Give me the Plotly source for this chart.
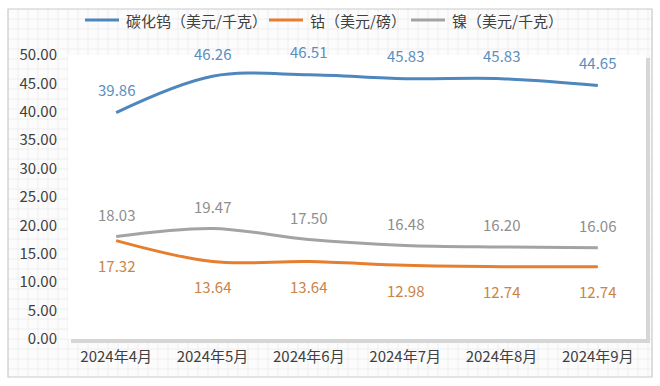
import plotly.graph_objects as go

months = ["2024年4月", "2024年5月", "2024年6月", "2024年7月", "2024年8月", "2024年9月"]
tungsten_carbide = [39.86, 46.26, 46.51, 45.83, 45.83, 44.65]
cobalt = [17.32, 13.64, 13.64, 12.98, 12.74, 12.74]
nickel = [18.03, 19.47, 17.50, 16.48, 16.20, 16.06]
y_ticks = [0, 5, 10, 15, 20, 25, 30, 35, 40, 45, 50]

names = ["碳化钨（美元/千克）", "钴（美元/磅）", "镍（美元/千克）"]
series = [tungsten_carbide, cobalt, nickel]
line_colors = ["#4E86BE", "#E67E2E", "#A3A3A3"]
label_colors = ["#5A8EC0", "#C98446", "#8E8E8E"]
label_shift = [23, -25, 22]
legend_text_x = [124, 308, 450]

FONT = "Noto Sans CJK SC, Noto Sans, sans-serif"
W, H = 660, 386
ML, MR, MT, MB = 68, 14, 55, 47
PW, PH = W - ML - MR, H - MT - MB


def px(x):
    return (x - ML) / PW


def py(y):
    return (H - MB - y) / PH


fig = go.Figure()
for name, vals, c in zip(names, series, line_colors):
    fig.add_trace(go.Scatter(
        x=months, y=vals, name=name, mode="lines",
        line=dict(color=c, width=3, shape="spline", smoothing=1.0),
        hoverinfo="skip", showlegend=False,
    ))

annotations = []
for vals, c, s in zip(series, label_colors, label_shift):
    for m, v in zip(months, vals):
        annotations.append(dict(
            x=m, y=v, xref="x", yref="y", text=f"{v:.2f}", showarrow=False,
            yshift=s, font=dict(family=FONT, size=15, color=c),
        ))

shapes = []
# outer frame background (graph paper)
fx0, fy0, fx1, fy1 = 8, 9, 652, 377
shapes.append(dict(type="rect", xref="paper", yref="paper", layer="below",
                   x0=px(fx0), x1=px(fx1), y0=py(fy1), y1=py(fy0),
                   fillcolor="#fcfcfc", line=dict(width=0)))
gx = fx0 + 10
while gx < fx1:
    shapes.append(dict(type="line", xref="paper", yref="paper", layer="below",
                       x0=px(gx), x1=px(gx), y0=py(fy1), y1=py(fy0),
                       line=dict(color="#eeeeee", width=1)))
    gx += 10
gy = fy0 + 10
while gy < fy1:
    shapes.append(dict(type="line", xref="paper", yref="paper", layer="below",
                       x0=px(fx0), x1=px(fx1), y0=py(gy), y1=py(gy),
                       line=dict(color="#eeeeee", width=1)))
    gy += 10
shapes.append(dict(type="rect", xref="paper", yref="paper", layer="below",
                   x0=px(fx0), x1=px(fx1), y0=py(fy1), y1=py(fy0),
                   fillcolor="rgba(0,0,0,0)", line=dict(color="#c9c9c9", width=1.2)))
# plot area shadow and white panel
shapes.append(dict(type="rect", xref="paper", yref="paper", layer="below",
                   x0=px(ML + 3), x1=px(ML + PW + 4), y0=py(H - MB + 4), y1=py(MT + 3),
                   fillcolor="#d6d6d6", line=dict(width=0)))
shapes.append(dict(type="rect", xref="paper", yref="paper", layer="below",
                   x0=0, x1=1, y0=0, y1=1,
                   fillcolor="#ffffff", line=dict(width=0)))

# legend (drawn manually for exact spacing)
for name, c, tx in zip(names, line_colors, legend_text_x):
    shapes.append(dict(type="line", xref="paper", yref="paper", layer="above",
                       x0=px(tx - 39), x1=px(tx - 5), y0=py(20), y1=py(20),
                       line=dict(color=c, width=3)))
    annotations.append(dict(x=px(tx), y=py(20), xref="paper", yref="paper",
                            xanchor="left", yanchor="middle", text=name, showarrow=False,
                            font=dict(family=FONT, size=15, color="#404040")))

fig.update_layout(
    width=W, height=H,
    margin=dict(l=ML, r=MR, t=MT, b=MB, autoexpand=False),
    paper_bgcolor="#ffffff",
    plot_bgcolor="rgba(0,0,0,0)",
    font=dict(family=FONT, size=15, color="#404040"),
    showlegend=False,
    annotations=annotations,
    shapes=shapes,
    xaxis=dict(type="category", range=[-0.5, 5.5], showgrid=False, zeroline=False,
               showline=False, ticks="", tickfont=dict(family=FONT, size=15, color="#404040"),
               ticklabelstandoff=7, fixedrange=True),
    yaxis=dict(range=[0, 50], tickvals=y_ticks, ticktext=[f"{v:.2f}" for v in y_ticks],
               showgrid=False, zeroline=False, showline=False, ticks="",
               tickfont=dict(family=FONT, size=15, color="#404040"),
               ticklabelstandoff=10, fixedrange=True),
)

fig.write_html("out.html", config={"displayModeBar": False},
               post_script="document.body.style.margin='0';")
